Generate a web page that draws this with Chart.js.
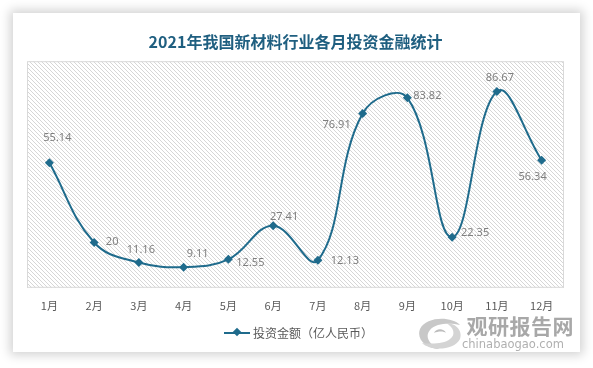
<!DOCTYPE html>
<html lang="zh">
<head>
  <meta charset="UTF-8" />
  <title>2021年我国新材料行业各月投资金融统计</title>
  <script src="https://cdn.jsdelivr.net/npm/chart.js"></script>
  <style>
    html, body { margin: 0; padding: 0; background: #fff; }
    body { width: 593px; height: 368px; position: relative; overflow: hidden; font-family: "Noto Sans CJK SC", "Noto Sans", sans-serif; }
    .card { position: absolute; left: 13px; top: 13px; width: 567px; height: 339px; background: #fff; box-shadow: 0 0 10px 3px rgba(0,0,0,0.18); }
    #wrap { position: absolute; left: 0; top: 0; width: 593px; height: 368px; }
    .legend { position: absolute; top: 324px; left: 224px; font-size: 12px; color: #595959; display: flex; align-items: center; }
    .legend .mark { position: relative; width: 26px; height: 2px; background: #1f6b8c; margin-right: 3px; }
    .legend .mark::after { content: ""; position: absolute; left: 10px; top: -3px; width: 6px; height: 6px; background: #1f6b8c; transform: rotate(45deg); }
    .wm { position: absolute; left: 462px; top: 312px; width: 112px; text-align: right; }
    .wm .big { font-size: 21px; font-weight: bold; letter-spacing: 0.5px; line-height: 26px; color: #a8a8a8; }
    .wm .small { font-family: "DejaVu Sans", sans-serif; font-size: 11.5px; line-height: 13px; color: #b0b0b0; text-align: left; }
    .logo { position: absolute; left: 416px; top: 317px; }
  </style>
</head>
<body>
<div class="card"></div>
<div id="wrap"><canvas id="chart" width="593" height="368"></canvas></div>
<div class="legend"><span class="mark"></span>投资金额（亿人民币）</div>
<svg class="logo" width="48" height="34" viewBox="0 0 48 34">
  <path d="M44 8 C36 -1 10 -1 4 12 C0 22 10 32 24 32 C14 28 8 20 14 13 C20 6 34 6 44 8 Z" fill="#c8c8c8"/>
  <path d="M6 26 C14 34 38 34 44 22 C47 14 40 6 30 6 C38 10 40 18 34 22 C28 27 16 27 6 26 Z" fill="#d4d4d4"/>
  <path d="M18 16 C20 11 28 11 30 16 C28 14 22 14 18 16 Z" fill="#bdbdbd"/>
</svg>
<div class="wm"><div class="big">观研报告网</div><div class="small">chinabaogao.com</div></div>

<script>
  const months = ['1月', '2月', '3月', '4月', '5月', '6月', '7月', '8月', '9月', '10月', '11月', '12月'];
  const amounts = [55.14, 20, 11.16, 9.11, 12.55, 27.41, 12.13, 76.91, 83.82, 22.35, 86.67, 56.34];
  const labelText = ['55.14', '20', '11.16', '9.11', '12.55', '27.41', '12.13', '76.91', '83.82', '22.35', '86.67', '56.34'];

  // label centre offsets from each point (px)
  const labelOffset = [[8, -25], [18, -1], [2, -13], [14, -13], [22, 3], [11, -9],
                       [27, 1], [-26, 11], [20, -2], [23, -4], [3, -14], [-9, 17]];

  const lineColor = '#1f6b8c';

  function hatch() {
    const c = document.createElement('canvas');
    c.width = 4; c.height = 4;
    const g = c.getContext('2d');
    g.fillStyle = '#ffffff';
    g.fillRect(0, 0, 4, 4);
    g.strokeStyle = '#d6d6d6';
    g.lineWidth = 1;
    g.beginPath();
    g.moveTo(0, 0); g.lineTo(4, 4);
    g.moveTo(-1, 3); g.lineTo(1, 5);
    g.moveTo(3, -1); g.lineTo(5, 1);
    g.stroke();
    return c;
  }

  const plotBg = {
    id: 'plotBg',
    beforeDraw(chart) {
      const { ctx, chartArea: a } = chart;
      ctx.save();
      ctx.fillStyle = ctx.createPattern(hatch(), 'repeat');
      ctx.fillRect(a.left, a.top, a.right - a.left, a.bottom - a.top);
      ctx.strokeStyle = '#d9d9d9';
      ctx.lineWidth = 1;
      ctx.strokeRect(a.left + 0.5, a.top + 0.5, a.right - a.left - 1, a.bottom - a.top - 1);
      ctx.restore();
    }
  };

  const valueLabels = {
    id: 'valueLabels',
    afterDatasetsDraw(chart) {
      const { ctx } = chart;
      const pts = chart.getDatasetMeta(0).data;
      ctx.save();
      ctx.font = '11px "Noto Sans", sans-serif';
      ctx.fillStyle = '#7f7f7f';
      ctx.textAlign = 'center';
      ctx.textBaseline = 'middle';
      pts.forEach((p, i) => {
        ctx.fillText(labelText[i], p.x + labelOffset[i][0], p.y + labelOffset[i][1]);
      });
      ctx.restore();
    }
  };

  new Chart(document.getElementById('chart'), {
    type: 'line',
    data: {
      labels: months,
      datasets: [{
        label: '投资金额（亿人民币）',
        data: amounts,
        borderColor: lineColor,
        backgroundColor: lineColor,
        borderWidth: 2,
        tension: 0.4,
        pointStyle: 'rectRot',
        pointRadius: 4.5,
        pointBorderWidth: 0
      }]
    },
    options: {
      responsive: false,
      animation: false,
      layout: { padding: { left: 27, right: 29, top: 0, bottom: 45 } },
      plugins: {
        legend: { display: false },
        tooltip: { enabled: false },
        title: {
          display: true,
          text: '2021年我国新材料行业各月投资金融统计',
          color: '#1f5f80',
          font: { size: 16, weight: 'bold', family: '"Noto Sans CJK SC", sans-serif' },
          padding: { top: 32, bottom: 10 }
        }
      },
      scales: {
        x: {
          offset: true,
          grid: { display: false, drawTicks: false },
          border: { display: false },
          ticks: { color: '#595959', padding: 11, font: { size: 11, family: '"Noto Sans CJK SC", sans-serif' } }
        },
        y: {
          display: false,
          min: 0,
          max: 100
        }
      }
    },
    plugins: [plotBg, valueLabels]
  });
</script>
</body>
</html>
